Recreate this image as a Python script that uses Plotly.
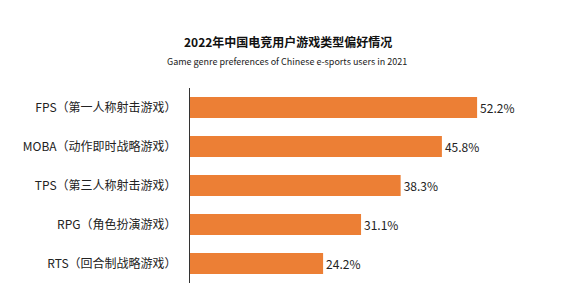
import plotly.graph_objects as go

categories = ["FPS（第一人称射击游戏）", "MOBA（动作即时战略游戏）", "TPS（第三人称射击游戏）",
              "RPG（角色扮演游戏）", "RTS（回合制战略游戏）"]
values = [52.2, 45.8, 38.3, 31.1, 24.2]
title_text = "2022年中国电竞用户游戏类型偏好情况"
subtitle_text = "Game genre preferences of Chinese e-sports users in 2021"

W, H = 561, 291
ML, MR, MT, MB = 190, 41, 88, 8
pw = W - ML - MR
ph = H - MT - MB

fig = go.Figure(go.Bar(
    x=values, y=categories, orientation="h",
    marker=dict(color="#EC7F35", line=dict(width=0)),
    text=[f"{v:.1f}%" for v in values], textposition="outside",
    textfont=dict(size=12, color="#222222", family="Noto Sans CJK SC"),
    cliponaxis=False, hoverinfo="skip",
))

def py(px):
    return 1 + (MT - px) / ph

def pxx(px):
    return (px - ML) / pw

fig.update_layout(
    width=W, height=H,
    margin=dict(l=ML, r=MR, t=MT, b=MB),
    plot_bgcolor="white", paper_bgcolor="white",
    bargap=0.46, showlegend=False,
    font=dict(family="Noto Sans CJK SC", color="#222222"),
    xaxis=dict(range=[0, 60], visible=False, fixedrange=True),
    yaxis=dict(autorange="reversed", showline=True, linecolor="#333333", linewidth=1,
               ticks="", showgrid=False, ticklabelstandoff=10,
               tickfont=dict(size=12, color="#222222", family="Noto Sans CJK SC")),
    annotations=[
        dict(text=f"<b>{title_text}</b>", x=pxx(288), y=py(42), xref="paper", yref="paper",
             showarrow=False, xanchor="center", yanchor="middle",
             font=dict(size=12, color="#111111", family="Noto Sans CJK SC")),
        dict(text=subtitle_text, x=pxx(287), y=py(61), xref="paper", yref="paper",
             showarrow=False, xanchor="center", yanchor="middle",
             font=dict(size=9, color="#222222", family="Noto Sans CJK SC")),
    ],
)

fig.write_html("out.html")
